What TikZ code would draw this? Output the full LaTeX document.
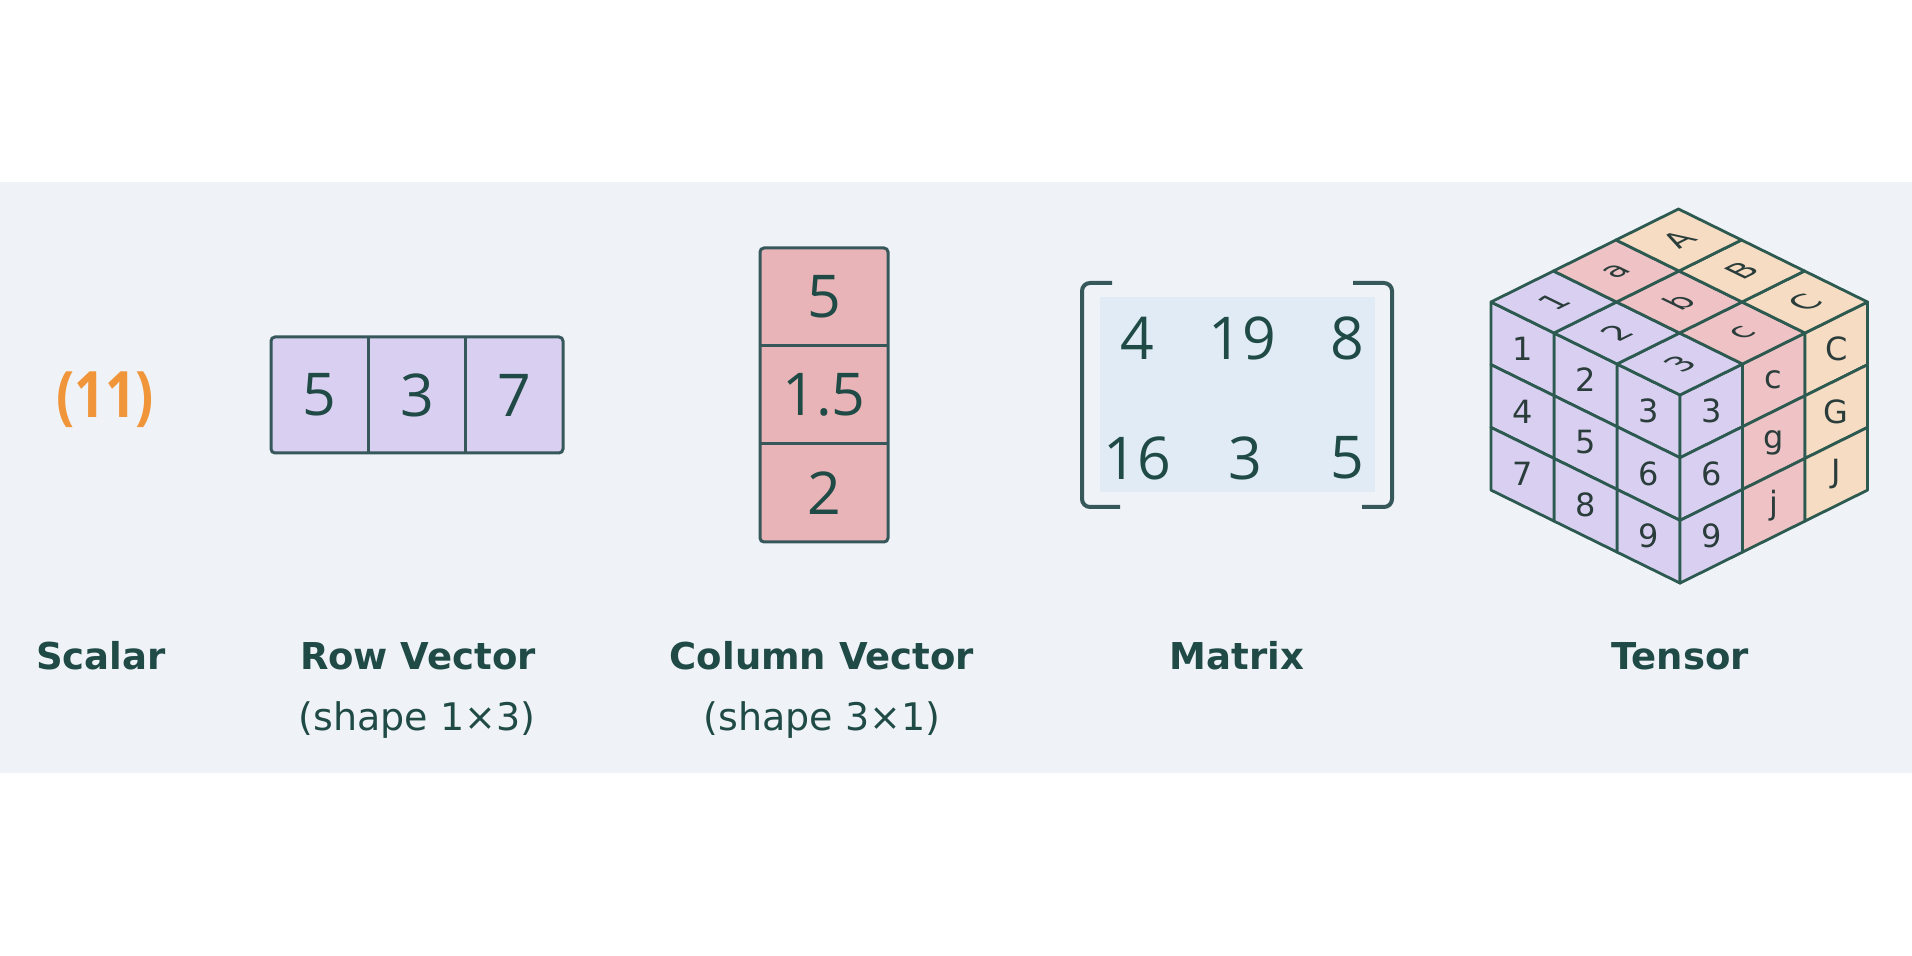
\documentclass[tikz,border=0pt]{standalone}
\usepackage{fontspec}
\setmainfont{DejaVu Sans}
\newfontfamily\numfont{Open Sans}
\newfontfamily\cubefont{DejaVu Sans}
\definecolor{band}{HTML}{EFF3F8}
\definecolor{ink}{HTML}{1F4A45}
\definecolor{edge}{HTML}{36585A}
\definecolor{cubeedge}{HTML}{2C5A50}
\definecolor{cubeink}{HTML}{2A3D3B}
\definecolor{lav}{HTML}{D9D0F1}
\definecolor{rose}{HTML}{E8B4B7}
\definecolor{cpink}{HTML}{EFC2C5}
\definecolor{peach}{HTML}{F6DCC2}
\definecolor{mshade}{HTML}{E0EBF6}
\definecolor{orng}{HTML}{F0953A}
\begin{document}
\begin{tikzpicture}[x=0.5pt,y=-0.5pt,
  lbl/.style={font=\bfseries\fontsize{18.5}{22}\selectfont, text=ink, anchor=base, inner sep=0pt},
  sublbl/.style={font=\fontsize{19}{23}\selectfont, text=ink, anchor=base, inner sep=0pt},
  num/.style={font=\numfont\fontsize{29.5}{34}\selectfont, text=ink, inner sep=0pt},
  boxline/.style={draw=edge, line width=1.5pt},
  bracket/.style={draw=edge, line width=2pt, rounded corners=4pt},
  cubecell/.style={draw=cubeedge, line width=1.4pt, line join=round},
  cubetxt/.style={font=\cubefont\fontsize{16}{19}\selectfont, text=cubeink, inner sep=0pt},
]
\useasboundingbox (0,0) rectangle (1912,956);
\fill[white] (0,0) rectangle (1912,956);
\fill[band] (0,182) rectangle (1912,773);

% Scalar
\node[font=\numfont\bfseries\fontsize{32}{38}\selectfont, text=orng, inner sep=0pt, xscale=0.84] (scalar) at (105,400) {(11)};

% Row vector
\fill[lav, rounded corners=2pt] (271,337) rectangle (563,453);
\draw[boxline] (368.3,337) -- (368.3,453) (465.7,337) -- (465.7,453);
\draw[boxline, rounded corners=2pt] (271,337) rectangle (563,453);
\node[num] (r1) at (319.7,395) {5};
\node[num] (r2) at (417,395) {3};
\node[num] (r3) at (514.3,395) {7};

% Column vector
\fill[rose, rounded corners=2pt] (760,248) rectangle (888,542);
\draw[boxline] (760,346) -- (888,346) (760,444) -- (888,444);
\draw[boxline, rounded corners=2pt] (760,248) rectangle (888,542);
\node[num] (c1) at (824,297) {5};
\node[num] (c2) at (824,395) {1.5};
\node[num] (c3) at (824,493) {2};

% Matrix
\fill[mshade] (1100,297) rectangle (1375,492);
\draw[bracket] (1112,283) -- (1082,283) -- (1082,507) -- (1120,507);
\draw[bracket] (1353,283) -- (1392,283) -- (1392,507) -- (1362,507);
\node[num] (m11) at (1137,338) {4};
\node[num] (m12) at (1242,338) {19};
\node[num] (m13) at (1347,338) {8};
\node[num] (m21) at (1137,458) {16};
\node[num] (m22) at (1245,458) {3};
\node[num] (m23) at (1347,458) {5};

% Tensor cube: left face
\begin{scope}[shift={(1680,395)}, x={(-31.5pt,15.5pt)}, y={(0pt,-31.35pt)}]
  \foreach \i/\j/\t in {0/0/3,1/0/2,2/0/1,0/1/6,1/1/5,2/1/4,0/2/9,1/2/8,2/2/7}{
    \draw[cubecell, fill=lav] (\i,\j) -- (\i+1,\j) -- (\i+1,\j+1) -- (\i,\j+1) -- cycle;
    \node[cubetxt] (L\i\j) at (\i+0.5,\j+0.5) {\t};
  }
\end{scope}
% right face
\begin{scope}[shift={(1680,395)}, x={(31.25pt,15.5pt)}, y={(0pt,-31.35pt)}]
  \foreach \k/\j/\t/\c in {0/0/3/lav,0/1/6/lav,0/2/9/lav,1/0/c/cpink,1/1/g/cpink,1/2/j/cpink,2/0/C/peach,2/1/G/peach,2/2/J/peach}{
    \draw[cubecell, fill=\c] (\k,\j) -- (\k+1,\j) -- (\k+1,\j+1) -- (\k,\j+1) -- cycle;
    \node[cubetxt] (R\k\j) at (\k+0.5,\j+0.5) {\t};
  }
\end{scope}
% top face
\begin{scope}[shift={(1680,395)}, x={(-31.5pt,15.5pt)}, y={(31.25pt,15.5pt)}]
  \foreach \i/\k/\t/\c in {0/0/3/lav,1/0/2/lav,2/0/1/lav,0/1/c/cpink,1/1/b/cpink,2/1/a/cpink,0/2/C/peach,1/2/B/peach,2/2/A/peach}{
    \draw[cubecell, fill=\c] (\i,\k) -- (\i+1,\k) -- (\i+1,\k+1) -- (\i,\k+1) -- cycle;
    \node[cubetxt, shift={(\i+0.5,\k+0.5)}, cm={0.896,0.442,-0.898,0.44,(0,0)}] (T\i\k) at (0,0) {\t};
  }
\end{scope}

% Labels
\node[lbl] (lscalar) at (101,670) {Scalar};
\node[lbl] (lrow) at (418,670) {Row Vector};
\node[sublbl] (srow) at (417,731) {(shape 1×3)};
\node[lbl] (lcol) at (822,670) {Column Vector};
\node[sublbl] (scol) at (822,731) {(shape 3×1)};
\node[lbl] (lmat) at (1237,670) {Matrix};
\node[lbl] (lten) at (1680,670) {Tensor};
\end{tikzpicture}
\end{document}
